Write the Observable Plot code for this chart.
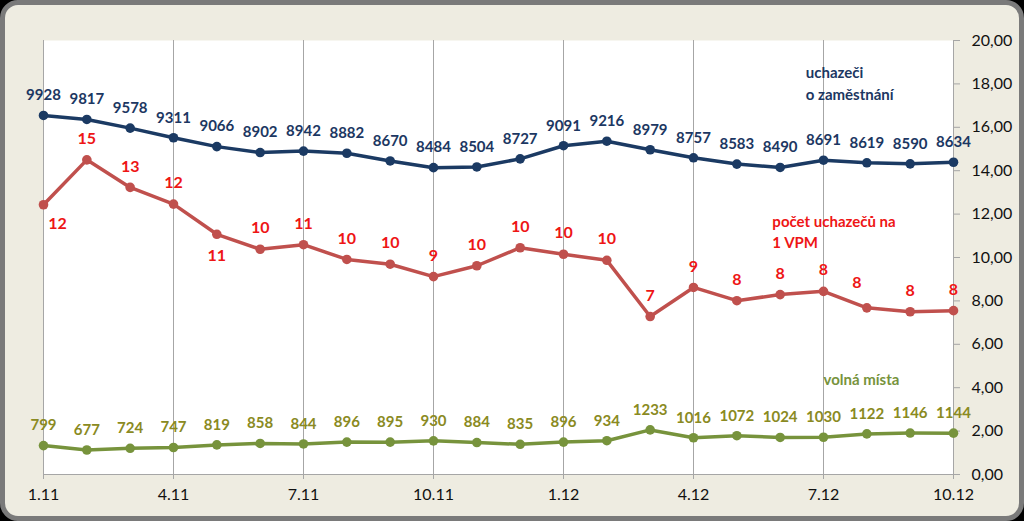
<!DOCTYPE html>
<html>
<head>
<meta charset="utf-8">
<script src="https://cdn.jsdelivr.net/npm/d3@7"></script>
<script src="https://cdn.jsdelivr.net/npm/@observablehq/plot@0.6"></script>
<style>
  html, body { margin: 0; padding: 0; background: #000; }
  #wrap { position: relative; width: 1024px; height: 521px; overflow: hidden; background: #000; }
  #frame { position: absolute; left: 0; top: 0; width: 1024px; height: 521px; box-sizing: border-box;
           border: 5px solid #7a7a7a; border-radius: 18px; background: #EEECE1; }
  #chart { position: absolute; left: 0; top: 0; }
</style>
</head>
<body>
<div id="wrap"><div id="frame"></div><div id="chart"></div></div>
<script>
const months = ["1.11","2.11","3.11","4.11","5.11","6.11","7.11","8.11","9.11","10.11","11.11","12.11",
                "1.12","2.12","3.12","4.12","5.12","6.12","7.12","8.12","9.12","10.12"];
const uchazeci = [9928, 9817, 9578, 9311, 9066, 8902, 8942, 8882, 8670, 8484, 8504, 8727,
                  9091, 9216, 8979, 8757, 8583, 8490, 8691, 8619, 8590, 8634];
const volnaMista = [799, 677, 724, 747, 819, 858, 844, 896, 895, 930, 884, 835,
                    896, 934, 1233, 1016, 1072, 1024, 1030, 1122, 1146, 1144];
const ratio = [12.43, 14.50, 13.23, 12.46, 11.07, 10.38, 10.59, 9.91, 9.69, 9.12, 9.62, 10.45,
               10.15, 9.87, 7.28, 8.62, 8.01, 8.29, 8.44, 7.68, 7.50, 7.55];
const ratioLabels = [12, 15, 13, 12, 11, 10, 11, 10, 10, 9, 10, 10, 10, 10, 7, 9, 8, 8, 8, 8, 8, 8];
const yTicks = [0, 2, 4, 6, 8, 10, 12, 14, 16, 18, 20];
const xTickIdx = [0, 3, 6, 9, 12, 15, 18, 21];
const scaleDiv = 600; // counts are drawn on the 0–20 axis as value / 600

const rows = months.map((m, i) => ({
  i, month: m,
  u: uchazeci[i] / scaleDiv, uLab: String(uchazeci[i]),
  v: volnaMista[i] / scaleDiv, vLab: String(volnaMista[i]),
  r: ratio[i], rLab: String(ratioLabels[i])
}));

const BLUE = "#1B3A63", BLUE_T = "#1C3762";
const RED = "#C0504D", RED_T = "#EE1515";
const GREEN = "#77933C", GREEN_T = "#8A8A22";
const GRID = "#a6a6a6";
const lblFont = {fontSize: 15, fontWeight: "bold"};

const chart = Plot.plot({
  width: 1024, height: 521,
  marginLeft: 43, marginRight: 71, marginTop: 40, marginBottom: 47,
  style: {background: "transparent", fontFamily: "Lato, 'Open Sans', sans-serif"},
  x: {domain: [0, 21], axis: null},
  y: {domain: [0, 20], axis: null},
  marks: [
    Plot.frame({fill: "white", stroke: null}),
    Plot.gridX(xTickIdx, {stroke: GRID, strokeOpacity: 1}),
    Plot.ruleY([0], {stroke: GRID, strokeWidth: 1.2}),
    Plot.axisX({ticks: xTickIdx, tickFormat: i => months[i], tickSize: 5, tickPadding: 9,
                stroke: GRID, fontSize: 16, fill: "#111", label: null}),
    Plot.axisY({anchor: "right", ticks: yTicks, tickFormat: d => d.toFixed(2).replace(".", ","),
                tickSize: 6, tickPadding: 12, stroke: GRID, fontSize: 16, fill: "#111", label: null}),
    // volná místa
    Plot.line(rows, {x: "i", y: "v", stroke: GREEN, strokeWidth: 3.5}),
    Plot.dot(rows, {x: "i", y: "v", fill: GREEN, r: 4.8}),
    Plot.text(rows, {x: "i", y: "v", text: "vLab", dy: -20, fill: GREEN_T, ...lblFont}),
    // uchazeči
    Plot.line(rows, {x: "i", y: "u", stroke: BLUE, strokeWidth: 3.5}),
    Plot.dot(rows, {x: "i", y: "u", fill: BLUE, r: 4.8}),
    Plot.text(rows, {x: "i", y: "u", text: "uLab", dy: -20, fill: BLUE_T, ...lblFont}),
    // počet uchazečů na 1 VPM
    Plot.line(rows, {x: "i", y: "r", stroke: RED, strokeWidth: 3.5}),
    Plot.dot(rows, {x: "i", y: "r", fill: RED, r: 4.8}),
    Plot.text(rows.filter(d => ![0, 4, 19].includes(d.i)), {x: "i", y: "r", text: "rLab", dy: -21, fill: RED_T, fontSize: 16, fontWeight: "bold"}),
    Plot.text(rows.filter(d => d.i === 0), {x: "i", y: "r", text: "rLab", dx: 14, dy: 19, fill: RED_T, fontSize: 16, fontWeight: "bold"}),
    Plot.text(rows.filter(d => d.i === 4), {x: "i", y: "r", text: "rLab", dy: 22, fill: RED_T, fontSize: 16, fontWeight: "bold"}),
    Plot.text(rows.filter(d => d.i === 19), {x: "i", y: "r", text: "rLab", dx: -10, dy: -25, fill: RED_T, fontSize: 16, fontWeight: "bold"}),
    // series names
    Plot.text(["uchazeči"], {x: 17.59, y: 18.48, text: d => d, textAnchor: "start", fill: BLUE_T, ...lblFont}),
    Plot.text(["o zaměstnání"], {x: 17.59, y: 17.47, text: d => d, textAnchor: "start", fill: BLUE_T, ...lblFont}),
    Plot.text(["počet uchazečů na"], {x: 16.82, y: 11.61, text: d => d, textAnchor: "start", fill: RED_T, ...lblFont}),
    Plot.text(["1 VPM"], {x: 16.82, y: 10.65, text: d => d, textAnchor: "start", fill: RED_T, ...lblFont}),
    Plot.text(["volná místa"], {x: 18.0, y: 4.33, text: d => d, textAnchor: "start", fill: GREEN, ...lblFont})
  ]
});
document.getElementById("chart").appendChild(chart);
</script>
</body>
</html>
